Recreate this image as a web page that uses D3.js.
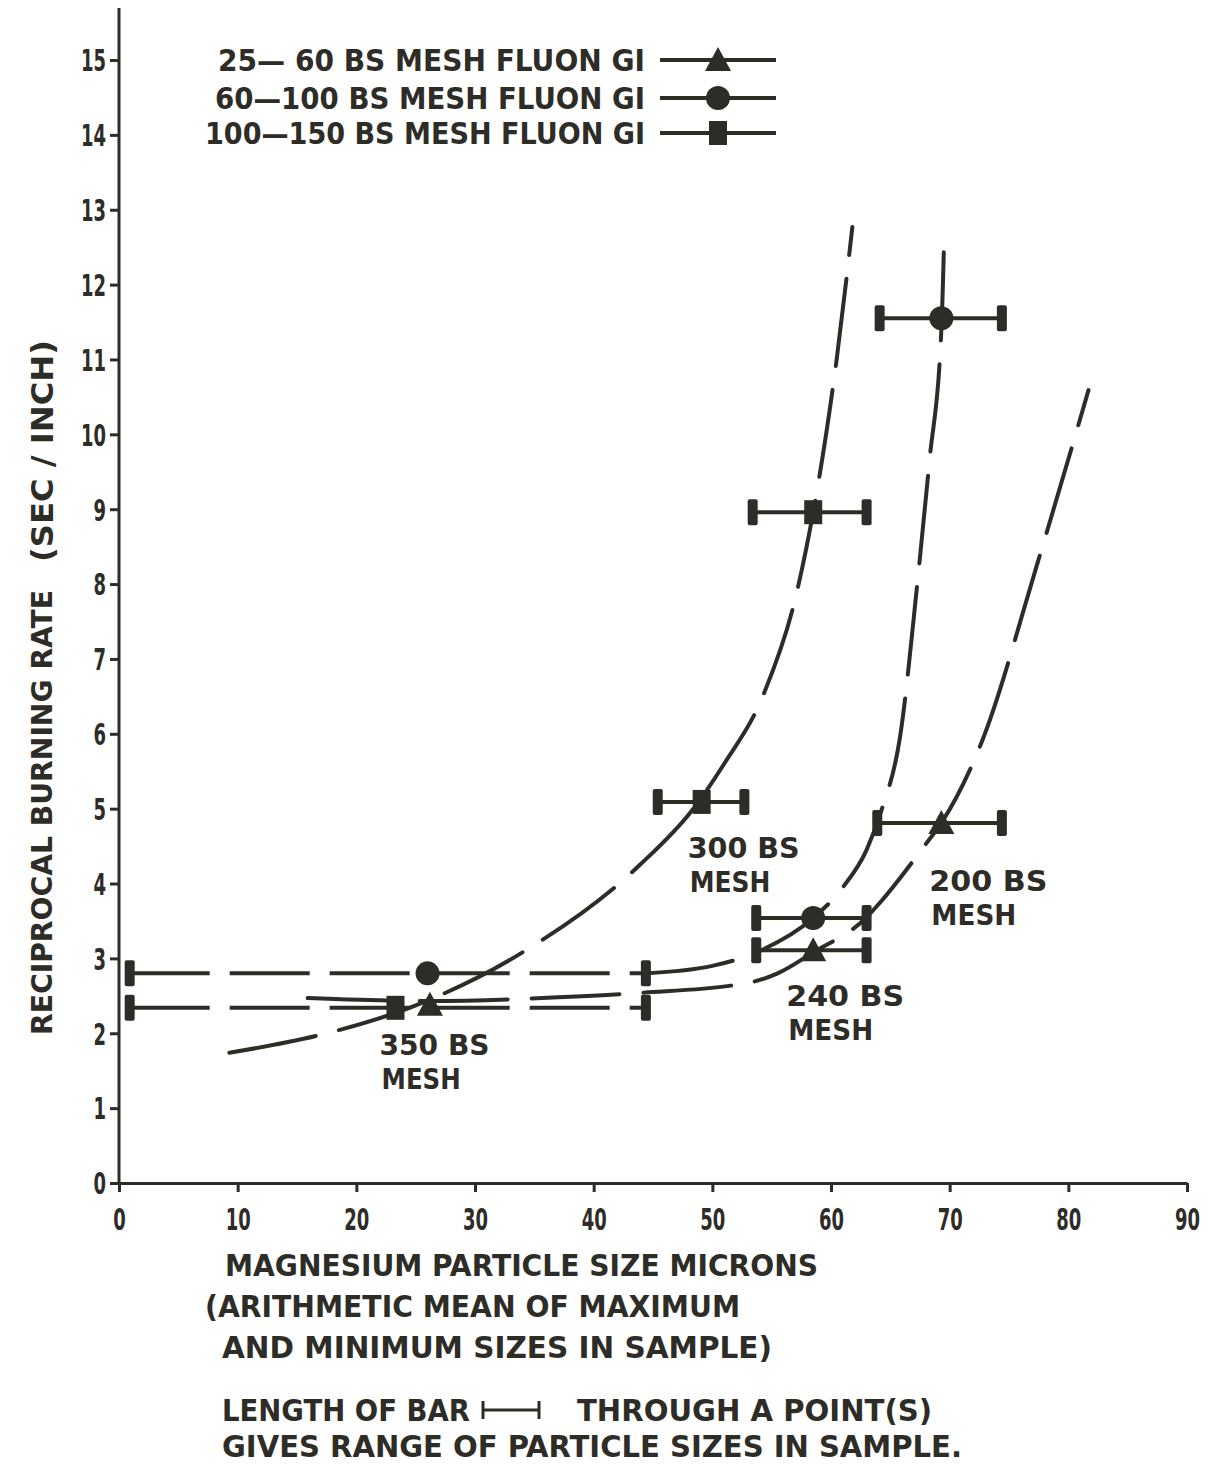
<!DOCTYPE html>
<html>
<head>
<meta charset="utf-8">
<title>Reciprocal burning rate vs magnesium particle size</title>
<script src="https://cdn.jsdelivr.net/npm/d3@7"></script>
<style>
  body { margin: 0; background: #fff; }
  svg { display: block; }
  .ink { fill: #2e2c27; }
  .lbl {
    font-family: "DejaVu Sans Condensed", "Liberation Sans Narrow", "DejaVu Sans", sans-serif;
    font-stretch: condensed;
    font-weight: bold;
    fill: #2e2c27;
  }
  .axis path, .axis line { stroke: #2e2c27; stroke-width: 3; }
  .fit { fill: none; stroke: #2e2c27; stroke-width: 4; stroke-dasharray: 88,24; stroke-linecap: round; }
  .bar { stroke: #2e2c27; stroke-width: 4; }
  .bar.long { stroke-dasharray: 80,20; }
</style>
</head>
<body>
<div id="chart"></div>
<script>
var width = 1224, height = 1466;

// ticks
var xTicks = [0, 10, 20, 30, 40, 50, 60, 70, 80, 90];
var yTicks = [0, 1, 2, 3, 4, 5, 6, 7, 8, 9, 10, 11, 12, 13, 14, 15];

// measured points: mean size (x), reciprocal rate (y), size range (lo..hi)
var squarePts = [
  {x: 23.3, y: 2.34, lo: 0.9, hi: 44.4},
  {x: 49.1, y: 5.09, lo: 45.4, hi: 52.7},
  {x: 58.5, y: 8.96, lo: 53.4, hi: 63.0}
];
var circlePts = [
  {x: 26.0, y: 2.80, lo: 0.9, hi: 44.4},
  {x: 58.5, y: 3.54, lo: 53.7, hi: 63.0},
  {x: 69.3, y: 11.55, lo: 64.1, hi: 74.4}
];
var trianglePts = [
  {x: 26.2, y: 2.38, lo: null, hi: null},
  {x: 58.5, y: 3.11, lo: 53.7, hi: 63.0},
  {x: 69.3, y: 4.81, lo: 63.9, hi: 74.4}
];

// hand drawn fit curves
var squareCurve = [[9.3,1.74],[17,1.98],[24.8,2.36],[34.1,3.09],[43.9,4.25],[48.3,4.98],
  [51,5.6],[54.3,6.52],[57.1,7.88],[58.5,8.96],[60.5,11.03],[61.8,12.77]];
var circleCurve = [[44.4,2.8],[50,2.9],[54,3.1],[58.5,3.54],[61,3.95],[63,4.45],[64.3,5.0],
  [65.8,5.94],[67.3,8.05],[68.3,9.65],[69.3,11.4],[69.55,12.7]];
var triangleCurve = [[15.9,2.47],[26.2,2.43],[37,2.48],[44,2.54],[52.9,2.67],[55.5,2.8],
  [58.5,3.08],[63,3.55],[64.1,3.74],[67.9,4.51],[69.3,4.81],[72.7,5.89],[77.4,8.28],[81.7,10.59]];

var legendNames = ["25\u2014 60  BS MESH  FLUON GI", "60\u2014100  BS MESH FLUON  GI", "100\u2014150  BS MESH  FLUON  GI"];
var meshNotes = [
  {lines: ["300 BS", "MESH"], x: 49.1, y: 5.09},
  {lines: ["200 BS", "MESH"], x: 69.3, y: 4.81},
  {lines: ["240 BS", "MESH"], x: 58.5, y: 3.11},
  {lines: ["350 BS", "MESH"], x: 26.0, y: 2.38}
];
var xTitle = ["MAGNESIUM PARTICLE SIZE MICRONS", "(ARITHMETIC MEAN OF MAXIMUM", "AND MINIMUM SIZES IN SAMPLE)"];

var svg = d3.select("#chart").append("svg")
  .attr("width", width).attr("height", height);

var x = d3.scaleLinear().domain([0, 90]).range([119, 1187]);
var y = d3.scaleLinear().domain([0, 15]).range([1183, 60]);

// axes
var gx = svg.append("g").attr("class", "axis")
  .attr("transform", "translate(0," + y(0) + ")")
  .call(d3.axisBottom(x).tickValues(xTicks).tickSize(9).tickSizeOuter(0).tickPadding(14));
var gy = svg.append("g").attr("class", "axis")
  .attr("transform", "translate(" + x(0) + ",0)")
  .call(d3.axisLeft(y).tickValues(yTicks).tickSize(9).tickSizeOuter(0).tickPadding(4));
gy.select(".domain").remove();
svg.append("line")
  .attr("x1", x(0)).attr("x2", x(0))
  .attr("y1", y(15) - 52).attr("y2", y(0) + 2)
  .attr("stroke", "#2e2c27").attr("stroke-width", 3);

svg.selectAll(".axis text")
  .attr("class", "lbl")
  .style("font-size", "30px")
  .attr("textLength", function(d) { return String(d).length * 12.5; })
  .attr("lengthAdjust", "spacingAndGlyphs");
gy.selectAll("text").attr("dy", "0.36em");
gx.selectAll("text").attr("dy", "0.8em");

// y title
svg.append("text").attr("class", "lbl")
  .attr("transform", "translate(52,1035) rotate(-90)")
  .style("font-size", "28px")
  .attr("textLength", 445).attr("lengthAdjust", "spacingAndGlyphs")
  .text("RECIPROCAL BURNING RATE");
svg.append("text").attr("class", "lbl")
  .attr("transform", "translate(53,562) rotate(-90)")
  .style("font-size", "30px")
  .attr("textLength", 222).attr("lengthAdjust", "spacingAndGlyphs")
  .text("(SEC / INCH)");

// fit curves
var line = d3.line()
  .x(function(d) { return x(d[0]); })
  .y(function(d) { return y(d[1]); })
  .curve(d3.curveMonotoneX);

[squareCurve, circleCurve, triangleCurve].forEach(function(c) {
  svg.append("path").datum(c).attr("class", "fit").attr("d", line);
});

// error bars
var all = squarePts.concat(circlePts, trianglePts).filter(function(d) { return d.lo !== null; });
var bars = svg.append("g");
bars.selectAll("line").data(all).enter().append("line")
  .attr("class", function(d) { return (d.hi - d.lo > 20) ? "bar long" : "bar"; })
  .attr("x1", function(d) { return x(d.lo); })
  .attr("x2", function(d) { return x(d.hi); })
  .attr("y1", function(d) { return y(d.y); })
  .attr("y2", function(d) { return y(d.y); });
var caps = [];
all.forEach(function(d) { caps.push({x: d.lo, y: d.y}); caps.push({x: d.hi, y: d.y}); });
bars.selectAll("rect").data(caps).enter().append("rect")
  .attr("class", "ink")
  .attr("x", function(d) { return x(d.x) - 5; })
  .attr("y", function(d) { return y(d.y) - 13; })
  .attr("width", 10).attr("height", 26).attr("rx", 2);

// markers
var sym = {
  square: function(g) { g.append("rect").attr("class", "ink").attr("x", -9).attr("y", -12).attr("width", 18).attr("height", 24); },
  circle: function(g) { g.append("circle").attr("class", "ink").attr("r", 12); },
  triangle: function(g) { g.append("path").attr("class", "ink").attr("d", "M0,-13L13,11L-13,11Z"); }
};
function markers(data, kind) {
  svg.append("g").selectAll("g").data(data).enter().append("g")
    .attr("transform", function(d) { return "translate(" + x(d.x) + "," + y(d.y) + ")"; })
    .each(function() { sym[kind](d3.select(this)); });
}
markers(squarePts, "square");
markers(circlePts, "circle");
markers(trianglePts, "triangle");

// legend
var kinds = ["triangle", "circle", "square"];
var legendY = [60, 98, 133];
var legendX = [218, 215, 205];
legendNames.forEach(function(name, i) {
  svg.append("text").attr("class", "lbl")
    .attr("x", legendX[i]).attr("y", legendY[i] + 11)
    .style("font-size", "30px")
    .attr("textLength", 645 - legendX[i]).attr("lengthAdjust", "spacingAndGlyphs")
    .text(name);
  svg.append("line").attr("x1", 660).attr("x2", 776)
    .attr("y1", legendY[i]).attr("y2", legendY[i])
    .attr("stroke", "#2e2c27").attr("stroke-width", 4);
  var g = svg.append("g").attr("transform", "translate(718," + legendY[i] + ")");
  sym[kinds[i]](g);
});

// mesh annotations (offset from their point)
var noteOff = [[-14, 56, 112], [-12, 68, 118], [-27, 56, 118], [-48, 50, 110]];
meshNotes.forEach(function(n, i) {
  var o = noteOff[i];
  var t = svg.append("text").attr("class", "lbl").style("font-size", "29px");
  t.append("tspan").attr("x", x(n.x) + o[0]).attr("y", y(n.y) + o[1])
    .attr("textLength", o[2]).attr("lengthAdjust", "spacingAndGlyphs").text(n.lines[0]);
  t.append("tspan").attr("x", x(n.x) + o[0] + 2).attr("y", y(n.y) + o[1] + 34)
    .attr("textLength", o[2] * 0.72).attr("lengthAdjust", "spacingAndGlyphs").text(n.lines[1]);
});

// x title
var titleX = [225, 205, 222], titleLen = [593, 535, 550], titleY = [1276, 1317, 1358];
xTitle.forEach(function(s, i) {
  svg.append("text").attr("class", "lbl")
    .attr("x", titleX[i]).attr("y", titleY[i])
    .style("font-size", "30px")
    .attr("textLength", titleLen[i]).attr("lengthAdjust", "spacingAndGlyphs")
    .text(s);
});

// note with bar symbol
svg.append("text").attr("class", "lbl").attr("x", 222).attr("y", 1421)
  .style("font-size", "30px").attr("textLength", 248).attr("lengthAdjust", "spacingAndGlyphs")
  .text("LENGTH OF BAR");
var sb = svg.append("g").attr("transform", "translate(482,1410)");
sb.append("line").attr("x1", 0).attr("x2", 58).attr("y1", 0).attr("y2", 0)
  .attr("stroke", "#2e2c27").attr("stroke-width", 3);
sb.append("line").attr("x1", 1).attr("x2", 1).attr("y1", -9).attr("y2", 9)
  .attr("stroke", "#2e2c27").attr("stroke-width", 3);
sb.append("line").attr("x1", 57).attr("x2", 57).attr("y1", -9).attr("y2", 9)
  .attr("stroke", "#2e2c27").attr("stroke-width", 3);
svg.append("text").attr("class", "lbl").attr("x", 577).attr("y", 1421)
  .style("font-size", "30px").attr("textLength", 355).attr("lengthAdjust", "spacingAndGlyphs")
  .text("THROUGH A POINT(S)");
svg.append("text").attr("class", "lbl").attr("x", 222).attr("y", 1457)
  .style("font-size", "30px").attr("textLength", 740).attr("lengthAdjust", "spacingAndGlyphs")
  .text("GIVES RANGE OF PARTICLE SIZES IN SAMPLE.");
</script>
</body>
</html>
